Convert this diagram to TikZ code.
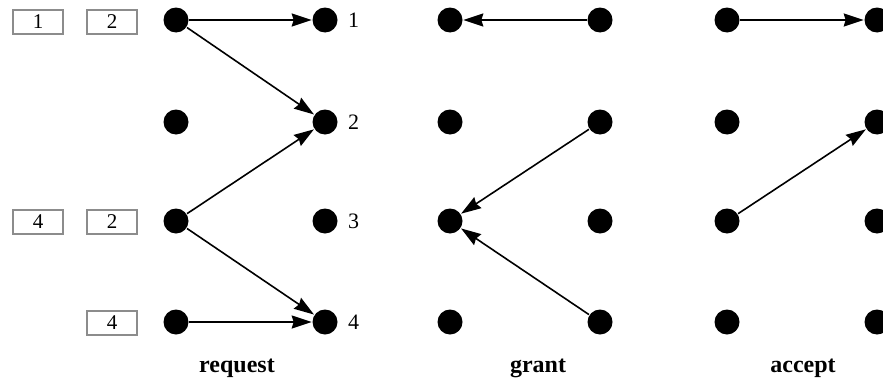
\documentclass[tikz,border=0pt]{standalone}
\usepackage{fontspec}
\setmainfont{Liberation Serif}
\usetikzlibrary{arrows.meta,positioning}

\begin{document}
\begin{tikzpicture}[x=1pt,y=-1pt,->,>={Stealth[length=20pt,width=13pt,inset=2pt]},
                    line width=1.6pt,
                    dot/.style={circle, fill=black, draw=none, minimum size=25pt, inner sep=0pt},
                    slot/.style={draw=black!45, line width=1.1pt, minimum width=50pt,
                                 minimum height=24pt, inner sep=0pt, font=\fontsize{21}{24}\selectfont},
                    num/.style={font=\fontsize{22}{26}\selectfont, inner sep=0pt},
                    phase/.style={font=\fontsize{24}{28}\selectfont\bfseries}]
  \useasboundingbox (0,0) rectangle (883,388);
  \clip (0,0) rectangle (883,388);
  % request
  \node[dot] (a1) at (176,20)  {};
  \node[dot] (a2) at (176,122) {};
  \node[dot] (a3) at (176,221) {};
  \node[dot] (a4) at (176,322) {};
  \node[dot] (b1) at (325,20)  {};
  \node[dot] (b2) at (325,122) {};
  \node[dot] (b3) at (325,221) {};
  \node[dot] (b4) at (325,322) {};
  % grant
  \node[dot] (c1) at (450,20)  {};
  \node[dot] (c2) at (450,122) {};
  \node[dot] (c3) at (450,221) {};
  \node[dot] (c4) at (450,322) {};
  \node[dot] (d1) at (600,20)  {};
  \node[dot] (d2) at (600,122) {};
  \node[dot] (d3) at (600,221) {};
  \node[dot] (d4) at (600,322) {};
  % accept
  \node[dot] (e1) at (727,20)  {};
  \node[dot] (e2) at (727,122) {};
  \node[dot] (e3) at (727,221) {};
  \node[dot] (e4) at (727,322) {};
  \node[dot] (f1) at (877,20)  {};
  \node[dot] (f2) at (877,122) {};
  \node[dot] (f3) at (877,221) {};
  \node[dot] (f4) at (877,322) {};

  \node[num, right=9pt of b1] (n1) {1};
  \node[num, right=9pt of b2] (n2) {2};
  \node[num, right=9pt of b3] (n3) {3};
  \node[num, right=9pt of b4] (n4) {4};

  \node[slot] (q11) at (38,22)   {1};
  \node[slot] (q12) at (112,22)  {2};
  \node[slot] (q31) at (38,222)  {4};
  \node[slot] (q32) at (112,222) {2};
  \node[slot] (q42) at (112,323) {4};

  \node[phase] (req) at (237,368) {request};
  \node[phase] (gnt) at (538,368) {grant};
  \node[phase] (acc) at (803,368) {accept};

  \path
    (a1) edge (b1)
    (a1) edge (b2)
    (a3) edge (b2)
    (a3) edge (b4)
    (a4) edge (b4)
    (d1) edge (c1)
    (d2) edge (c3)
    (d4) edge (c3)
    (e1) edge (f1)
    (e3) edge (f2);
\end{tikzpicture}
\end{document}
